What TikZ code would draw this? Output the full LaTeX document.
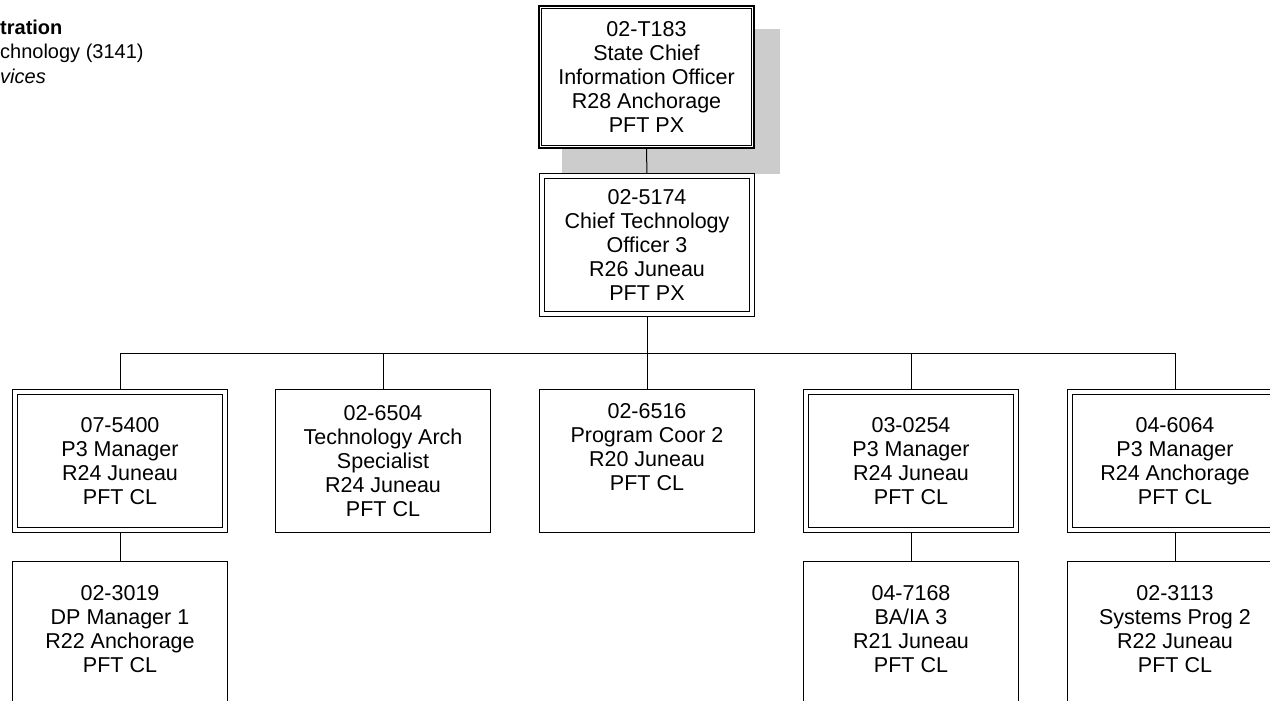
\documentclass[tikz,border=0pt]{standalone}
\usepackage{fontspec}
\setmainfont{Liberation Sans}
\usetikzlibrary{backgrounds}
\begin{document}
\begin{tikzpicture}[x=1pt,y=-1pt,
  boxtext/.style={align=center,font=\fontsize{21.5}{24}\selectfont,inner sep=0pt},
  sbox/.style={boxtext,draw=black,line width=1pt,fill=white,minimum width=215pt,minimum height=143pt},
  lbox/.style={sbox,minimum height=188pt},
  dbox/.style={boxtext,draw=black,line width=1pt,double=white,double distance=4pt,fill=white,minimum width=210pt,minimum height=138pt},
  tbox/.style={boxtext,draw=black,line width=2pt,fill=white,minimum width=215pt,minimum height=142pt},
  conn/.style={draw=black,line width=1pt},
  hdr/.style={anchor=base west,inner sep=0pt,font=\fontsize{20}{24}\selectfont}]
\useasboundingbox (0,0) rectangle (1270,701);
\clip (0,0) rectangle (1270,701);

% header (clipped at the left edge)
\node[hdr,font=\fontsize{20}{24}\selectfont\bfseries] (h1) at (0,35) {tration};
\node[hdr] (h2) at (0,59) {chnology (3141)};
\node[hdr,font=\fontsize{20}{24}\selectfont\itshape] (h3) at (0,84) {vices};

% top box
\node[tbox] (cio) at (646.5,77) {02-T183\\State Chief\\Information Officer\\R28 Anchorage\\PFT PX};
\draw[line width=1pt] ([shift={(3.5,3.5)}]cio.north west) rectangle ([shift={(-3.5,-3.5)}]cio.south east);

% second level
\node[dbox] (cto) at (647,245) {02-5174\\Chief Technology\\Officer 3\\R26 Juneau\\PFT PX};

% first row
\node[dbox] (b1) at (120,461) {07-5400\\P3 Manager\\R24 Juneau\\PFT CL};
\node[sbox] (b2) at (383,461) {02-6504\\Technology Arch\\Specialist\\R24 Juneau\\PFT CL};
\node[sbox] (b3) at (647,461) {02-6516\\Program Coor 2\\R20 Juneau\\PFT CL\\\vphantom{Ag}};
\node[dbox] (b4) at (911,461) {03-0254\\P3 Manager\\R24 Juneau\\PFT CL};
\node[dbox] (b5) at (1175,461) {04-6064\\P3 Manager\\R24 Anchorage\\PFT CL};

% second row (cut off by the lower edge)
\node[lbox] (c1) at (120,655) {02-3019\\DP Manager 1\\R22 Anchorage\\PFT CL\\\vphantom{Ag}\\\vphantom{Ag}};
\node[lbox] (c4) at (911,655) {04-7168\\BA/IA 3\\R21 Juneau\\PFT CL\\\vphantom{Ag}\\\vphantom{Ag}};
\node[lbox] (c5) at (1175,655) {02-3113\\Systems Prog 2\\R22 Juneau\\PFT CL\\\vphantom{Ag}\\\vphantom{Ag}};

\coordinate (busL) at (120,353);
\coordinate (busR) at (1175,353);

\begin{pgfonlayer}{background}
  \fill[gray!40] ([shift={(24,24)}]cio.north west) rectangle ([shift={(25,25)}]cio.south east);
  \draw[conn] (cio.south) -- (cto.north);
  \draw[conn] (cto.south) -- (cto.south |- busL);
  \draw[conn] (busL) -- (busR);
  \foreach \b in {b1,b2,b3,b4,b5} \draw[conn] (\b.north) -- (\b.north |- busL);
  \draw[conn] (b1.south) -- (c1.north);
  \draw[conn] (b4.south) -- (c4.north);
  \draw[conn] (b5.south) -- (c5.north);
\end{pgfonlayer}
\end{tikzpicture}
\end{document}
